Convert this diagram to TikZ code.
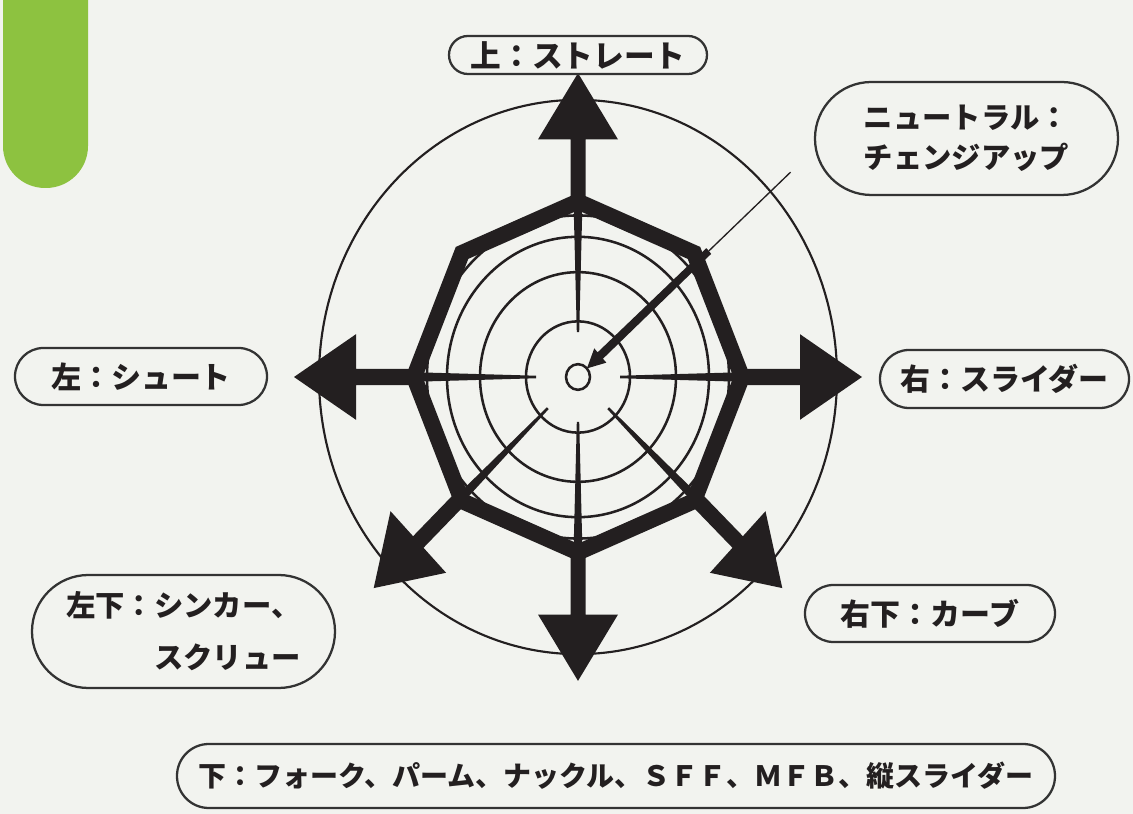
\documentclass[tikz,border=0pt]{standalone}
\usepackage{fontspec}
\newfontfamily\jp{Noto Sans CJK JP}
\definecolor{ink}{HTML}{231F20}
\definecolor{bg}{HTML}{F2F3EF}
\definecolor{tabgreen}{HTML}{8DC240}
\definecolor{boxline}{HTML}{333333}
\begin{document}
\begin{tikzpicture}[x=0.75pt,y=0.75pt,
  lbl/.style={draw=boxline, line width=1.7pt, fill=bg, inner sep=0pt, align=center,
    font=\jp\bfseries\fontsize{22}{26}\selectfont, text=ink},
  ring/.style={draw=ink, line width=1.9pt},
  arrowshape/.style={fill=ink, draw=none},
]
\fill[bg] (0,0) rectangle (1133,814);
\useasboundingbox (0,0) rectangle (1133,814);
% green tab
\fill[tabgreen, rounded corners=31.5pt] (3,880) rectangle (88,626);

\begin{scope}[shift={(578,437)}, yscale=1.07]
  \draw[ink, line width=1.6pt] (0,0) circle[radius=259];
  \foreach \r in {12,52,98,131,151} \draw[ring] (0,0) circle[radius=\r];
  \draw[ink, line width=12pt, line join=miter] (0:164) \foreach \a in {45,90,...,315}{ -- (\a:164)} -- cycle;
  \foreach \a in {90,180,0,270,224,316}{
    \fill[arrowshape, rotate=\a] (42,-1.2) -- (165,-4.5) -- (165,-7.5) -- (222,-7.5) -- (222,-40) -- (284,0)
      -- (222,40) -- (222,7.5) -- (165,7.5) -- (165,4.5) -- (42,1.2) -- cycle;
  }
  % neutral pointer
  \coordinate (pend) at (42:286);
  \coordinate (pmid) at (42:176);
  \fill[arrowshape, rotate=42] (176,-3.6) -- (30,-4) -- (30,-9) -- (12,0) -- (30,9) -- (30,4) -- (176,3.6) -- cycle;
  \draw[ink, line width=1pt] (pend) -- (pmid);
\end{scope}

\node[lbl, font=\jp\bfseries\fontsize{23}{27}\selectfont, minimum width=193.5pt, minimum height=28.5pt, rounded corners=14.2pt] (up) at (578,759) {上：ストレート};
\node[lbl, minimum width=227.25pt, minimum height=84.75pt, rounded corners=42.3pt, align=left] (neutral) at (966.5,675.5) {ニュートラル：\\[4pt]チェンジアップ};
\node[lbl, font=\jp\bfseries\fontsize{22.5}{26}\selectfont, minimum width=189pt, minimum height=42.75pt, rounded corners=21.3pt] (left) at (141,437.5) {左：シュート};
\node[lbl, font=\jp\bfseries\fontsize{22.5}{26}\selectfont, minimum width=186.75pt, minimum height=43.5pt, rounded corners=21.7pt] (right) at (1004.5,435) {右：スライダー};
\node[lbl, font=\jp\bfseries\fontsize{22.5}{26}\selectfont, minimum width=187.5pt, minimum height=42.75pt, rounded corners=21.3pt] (downright) at (930,200.5) {右下：カーブ};
\node[lbl, minimum width=227.25pt, minimum height=84.75pt, rounded corners=42.3pt, align=left] (downleft) at (183.5,182.5) {左下：シンカー、\\[13pt]\hspace*{3em}スクリュー};
\node[lbl, font=\jp\bfseries\fontsize{21}{25}\selectfont, minimum width=658.5pt, minimum height=48pt, rounded corners=23.9pt] (down) at (616,38) {下：フォーク、パーム、ナックル、ＳＦＦ、ＭＦＢ、縦スライダー};
\end{tikzpicture}
\end{document}
